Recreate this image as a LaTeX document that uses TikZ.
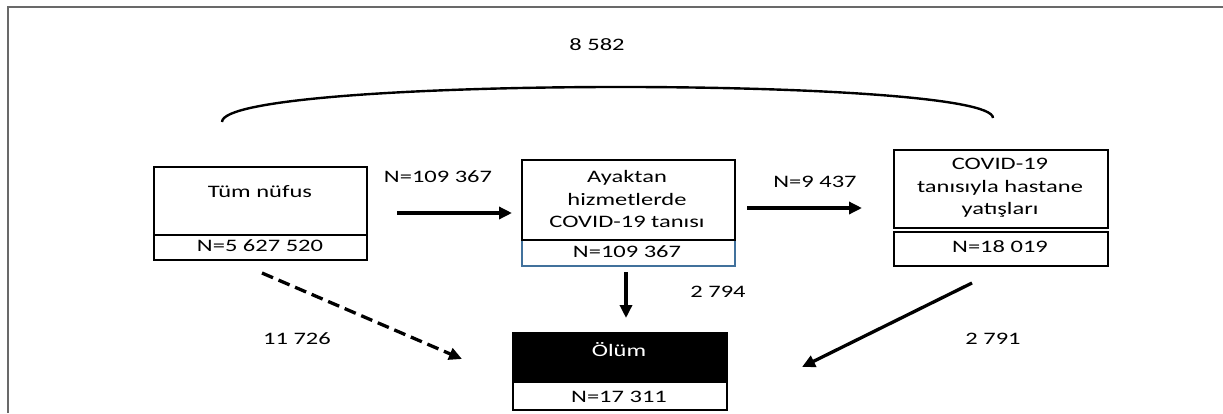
\documentclass[tikz,border=0pt]{standalone}
\usepackage{fontspec}
\setmainfont[FakeStretch=1.4]{Carlito}
\usetikzlibrary{arrows.meta}
\definecolor{boxblue}{RGB}{65,113,156}
\definecolor{framegray}{RGB}{105,105,105}
\begin{document}
\begin{tikzpicture}[x=1pt,y=-1pt,
  part/.style={draw=black, line width=2.1pt, inner sep=0pt, anchor=north west},
  txt/.style={font=\fontsize{17.5}{22.5}\selectfont, align=center, inner sep=0pt},
  flow/.style={line width=3.3pt, -{Triangle[length=13pt,width=12pt]}},
]
\useasboundingbox (0,0) rectangle (1223,413);
% frame
\draw[framegray, line width=1.4pt] (8,413) -- (8,7) -- (1223,7);

% box 1
\node[part, minimum width=213pt, minimum height=68pt] (b1top) at (153,166) {};
\node[part, minimum width=213pt, minimum height=25pt] (b1bot) at (153,234) {};
\node[txt] (t1) at (260,192) {Tüm nüfus};
\node[txt] (n1) at (260,246) {N=5 627 520};

% box 2
\node[part, draw=boxblue, line width=1.6pt, minimum width=213pt, minimum height=26pt] (b2bot) at (521,239) {};
\node[part, minimum width=213pt, minimum height=80pt] (b2top) at (521,159) {};
\node[txt] (t2) at (627,199) {Ayaktan\\hizmetlerde\\COVID-19 tanısı};
\node[txt] (n2) at (627,252) {N=109 367};

% box 3
\node[part, minimum width=214pt, minimum height=78pt] (b3top) at (893,149) {};
\node[part, minimum width=214pt, minimum height=34pt] (b3bot) at (893,231) {};
\node[txt] (t3) at (1000,188) {COVID-19\\tanısıyla hastane\\yatışları};
\node[txt] (n3) at (1000,247) {N=18 019};

% death box
\node[part, fill=black, minimum width=214pt, minimum height=49pt] (b4top) at (512,332) {};
\node[part, minimum width=214pt, minimum height=28pt] (b4bot) at (512,381) {};
\node[txt, text=white] (t4) at (619,350) {Ölüm};
\node[txt] (n4) at (619,397) {N=17 311};

% connector end points
\coordinate (a1s) at (397,213);
\coordinate (a1e) at (512,213);
\coordinate (a2s) at (747,208);
\coordinate (a2e) at (862,208);
\coordinate (a3s) at (626,272);
\coordinate (a3e) at (626,318);
\coordinate (a4s) at (262,273);
\coordinate (a4e) at (462,359);
\coordinate (a5s) at (972,283);
\coordinate (a5e) at (802,367);
\coordinate (arcL) at (222,122);
\coordinate (arcR) at (993,118);

\draw[flow] (a1s) -- (a1e);
\draw[flow] (a2s) -- (a2e);
\draw[flow] (a3s) -- (a3e);
\draw[flow, dash pattern=on 12pt off 6pt] (a4s) -- (a4e);
\draw[flow] (a5s) -- (a5e);
\draw[line width=2.4pt] (arcL) .. controls (222,76) and (993,76) .. (arcR);

% labels
\node[txt] (l1) at (438,177) {N=109 367};
\node[txt] (l2) at (815,182) {N=9 437};
\node[txt] (l3) at (718,292) {2 794};
\node[txt] (l4) at (297,339) {11 726};
\node[txt] (l5) at (993,339) {2 791};
\node[txt] (l6) at (597,45) {8 582};
\end{tikzpicture}
\end{document}
